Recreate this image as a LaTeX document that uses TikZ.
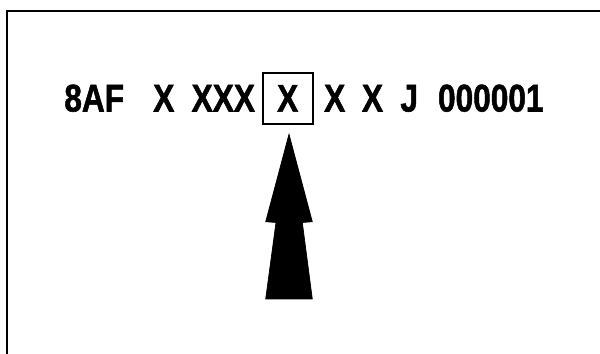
\documentclass[tikz,border=0pt]{standalone}
\usepackage{fontspec}
\setmainfont{Liberation Sans}[BoldFeatures={FakeBold=1.5}]
\newcommand{\tallcode}[1]{\scalebox{1}[1.22]{#1}}

\begin{document}
\begin{tikzpicture}[x=0.02cm, y=-0.02cm,
    code/.style={anchor=base, inner sep=0pt, font=\bfseries\fontsize{18}{20}\selectfont}]

    \useasboundingbox (0,0) rectangle (600,354);

    % frame
    \draw[line width=0.04cm] (7,354) -- (7,11) -- (600,11);

    % serial number
    \node[code] (plant) at (94.2,111.5) {\tallcode{8AF}};
    \node[code] (first) at (163.8,111.5) {\tallcode{X}};
    \node[code] (model) at (223.3,111.5) {\tallcode{XXX}};
    \node[draw, line width=0.04cm, minimum width=1cm, minimum height=1.02cm, inner sep=0pt,
          font=\bfseries\fontsize{18}{20}\selectfont] (pick) at (287.7,98.4) {\tallcode{X}};
    \node[code] (second) at (334.7,111.5) {\tallcode{X}};
    \node[code] (third) at (372.5,111.5) {\tallcode{X}};
    \node[code] (line) at (409.2,111.5) {\tallcode{J}};
    \node[code] (number) at (490.8,111.5) {\tallcode{000001}};

    % pointer
    \draw[fill=black] (289,134.3) -- (312.3,221.7) -- (302.3,222.5) -- (312.3,299)
        -- (265.7,299) -- (276,222.5) -- (265.7,221.7) -- cycle;

\end{tikzpicture}
\end{document}
